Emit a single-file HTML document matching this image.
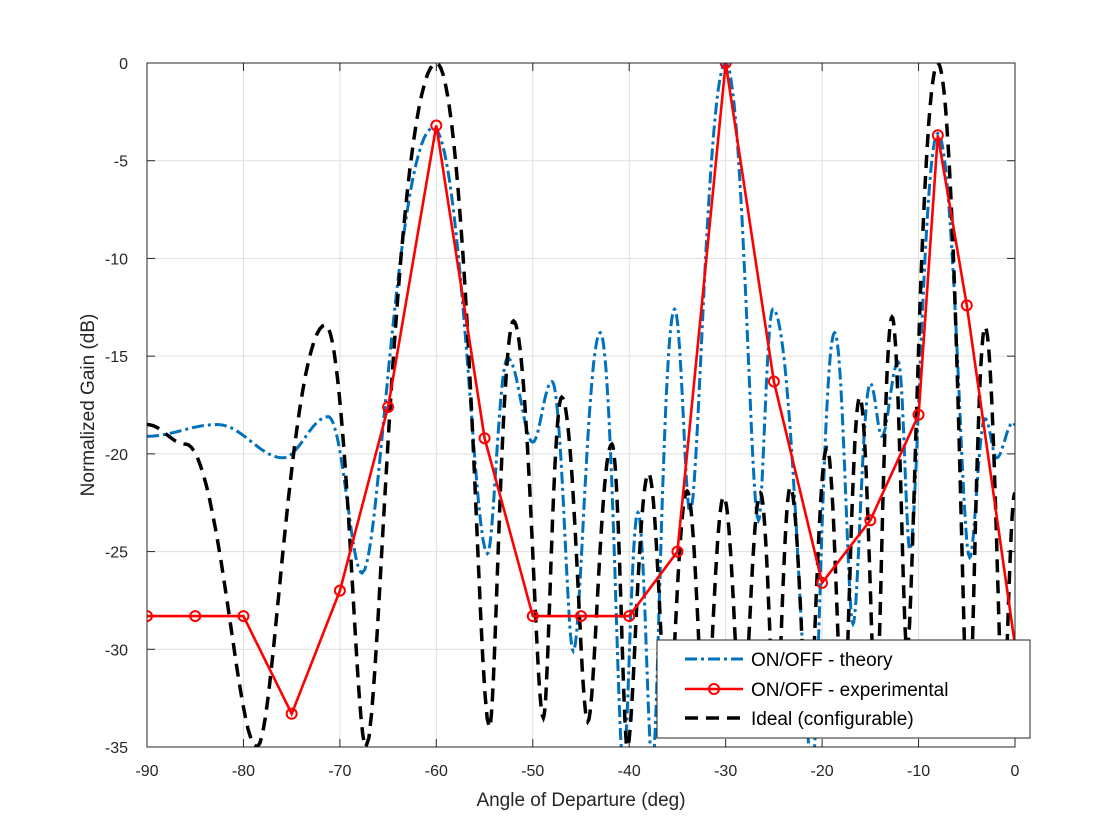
<!DOCTYPE html>
<html><head><meta charset="utf-8"><style>
html,body{margin:0;padding:0;background:#fff}
svg{display:block;font-family:"Liberation Sans",Arial,sans-serif}
</style></head><body>
<svg id="s" width="1120" height="840" viewBox="0 0 1120 840" xmlns="http://www.w3.org/2000/svg">
<rect width="1120" height="840" fill="#fff"/>
<g id="grid" stroke="#dfdfdf" stroke-width="1"></g>
<g id="ticks" fill="#262626" font-size="16"></g>
<text x="581" y="806" text-anchor="middle" font-size="19" fill="#262626">Angle of Departure (deg)</text>
<text transform="translate(94,405) rotate(-90)" text-anchor="middle" font-size="19" fill="#262626">Normalized Gain (dB)</text>
<defs><clipPath id="c"><rect x="147" y="63" width="868" height="684"/></clipPath></defs>
<g clip-path="url(#c)">
<path id="blue" fill="none" stroke="#0072bd" stroke-width="3" stroke-dasharray="12,4,3,4"/>
<path id="black" fill="none" stroke="#000" stroke-width="3.5" stroke-dasharray="13,8"/>
<path id="red" fill="none" stroke="#ff0000" stroke-width="2.6"/>
<g id="marks" fill="none" stroke="#ff0000" stroke-width="2"></g>
</g>
<rect x="147" y="63" width="868" height="684" fill="none" stroke="#262626" stroke-width="1"/>
<rect x="657" y="640" width="373" height="98" fill="#fff" stroke="#262626" stroke-width="1"/>
<line x1="685" y1="659" x2="743" y2="659" stroke="#0072bd" stroke-width="3" stroke-dasharray="12,4,3,4"/>
<line x1="685" y1="689" x2="743" y2="689" stroke="#ff0000" stroke-width="2.6"/>
<circle cx="714" cy="689" r="5" fill="none" stroke="#ff0000" stroke-width="2"/>
<line x1="685" y1="718" x2="743" y2="718" stroke="#000" stroke-width="3.5" stroke-dasharray="13,8"/>
<text x="751" y="666" font-size="19" fill="#000">ON/OFF - theory</text>
<text x="751" y="696" font-size="19" fill="#000">ON/OFF - experimental</text>
<text x="751" y="725" font-size="19" fill="#000">Ideal (configurable)</text>
</svg>
<script>
const X=d=>147+(d+90)*9.6444, Y=v=>63-v*19.543;
const NS="http://www.w3.org/2000/svg";
const g=document.getElementById('grid'),t=document.getElementById('ticks');
function el(p,n,a,txt){const e=document.createElementNS(NS,n);for(const k in a)e.setAttribute(k,a[k]);if(txt!=null)e.textContent=txt;p.appendChild(e);return e;}
for(let d=-90;d<=0;d+=10){const x=X(d);el(g,'line',{x1:x,y1:63,x2:x,y2:747});
 el(t,'line',{x1:x,y1:747,x2:x,y2:739,stroke:'#262626'});el(t,'line',{x1:x,y1:63,x2:x,y2:71,stroke:'#262626'});
 el(t,'text',{x:x,y:776,'text-anchor':'middle'},String(d));}
for(let v=0;v>=-35;v-=5){const y=Y(v);el(g,'line',{x1:147,y1:y,x2:1015,y2:y});
 el(t,'line',{x1:147,y1:y,x2:155,y2:y,stroke:'#262626'});el(t,'line',{x1:1015,y1:y,x2:1007,y2:y,stroke:'#262626'});
 el(t,'text',{x:128,y:y+6,'text-anchor':'end'},String(v));}
const P=0.5;
const A=v=>Math.pow(10,P*v/20),D=a=>20*Math.log10(Math.max(a,1e-4))/P;
function curve(pts){let s='';for(let i=0;i<pts.length-1;i++){const[a,b]=pts[i],[c,e]=pts[i+1];const n=24;
 const a0=A(b),a1=A(e);
 for(let k=(i?1:0);k<=n;k++){const u=k/n,w=(1-Math.cos(Math.PI*u))/2;const d=a+(c-a)*u,v=D(a0+(a1-a0)*w);s+=(s?'L':'M')+X(d).toFixed(1)+','+Y(v).toFixed(1);}}return s;}
const blue=[[-90,-19.1],[-82.7,-18.5],[-75.9,-20.2],[-71.2,-18.1],[-67.7,-26.1],[-60.3,-3.3],[-54.7,-25.1],[-52.6,-15.1],[-50,-19.4],[-48,-16.3],[-45.8,-30.1],[-43,-13.8],[-40.6,-36],[-39.1,-23],[-37.6,-36],[-35.3,-12.6],[-33.7,-23],[-30,0],[-26.6,-23.4],[-25.1,-12.6],[-21,-36],[-18.7,-13.8],[-16.8,-28.7],[-15,-16.4],[-13.8,-19.1],[-12.1,-15.3],[-10.9,-24.9],[-8,-3.6],[-4.7,-25.3],[-3.1,-18.2],[-1.9,-20.2],[-0.2,-18.4],[0,-18.5]];
const black=[[-90,-18.5],[-86,-19.5],[-78.6,-35],[-71.5,-13.4],[-67.3,-35],[-60,0],[-54.5,-34],[-52,-13.2],[-48.9,-33.5],[-47,-17.1],[-44.3,-33.7],[-41.8,-19.5],[-40.2,-35],[-38,-21],[-36,-34],[-34,-21.9],[-32.1,-34],[-30.2,-22.2],[-28.3,-34],[-26.4,-22],[-24.8,-34],[-23.3,-21.7],[-21.4,-34],[-19.5,-19.7],[-17.8,-34],[-16.1,-17.1],[-14.4,-33],[-12.75,-13],[-11.2,-30],[-8,0],[-4.8,-34],[-3.1,-13.5],[-1.2,-33],[0,-22]];
document.getElementById('blue').setAttribute('d',curve(blue));
document.getElementById('black').setAttribute('d',curve(black));
const red=[[-90,-28.3],[-85,-28.3],[-80,-28.3],[-75,-33.3],[-70,-27],[-65,-17.6],[-60,-3.2],[-55,-19.2],[-50,-28.3],[-45,-28.3],[-40,-28.3],[-35,-25],[-30,0],[-25,-16.3],[-20,-26.6],[-15,-23.4],[-10,-18],[-8,-3.7],[-5,-12.4],[0,-29.8]];
document.getElementById('red').setAttribute('d',red.map((p,i)=>(i?'L':'M')+X(p[0]).toFixed(1)+','+Y(p[1]).toFixed(1)).join(''));
const m=document.getElementById('marks');red.forEach(p=>el(m,'circle',{cx:X(p[0]),cy:Y(p[1]),r:5}));
</script>
</body></html>
